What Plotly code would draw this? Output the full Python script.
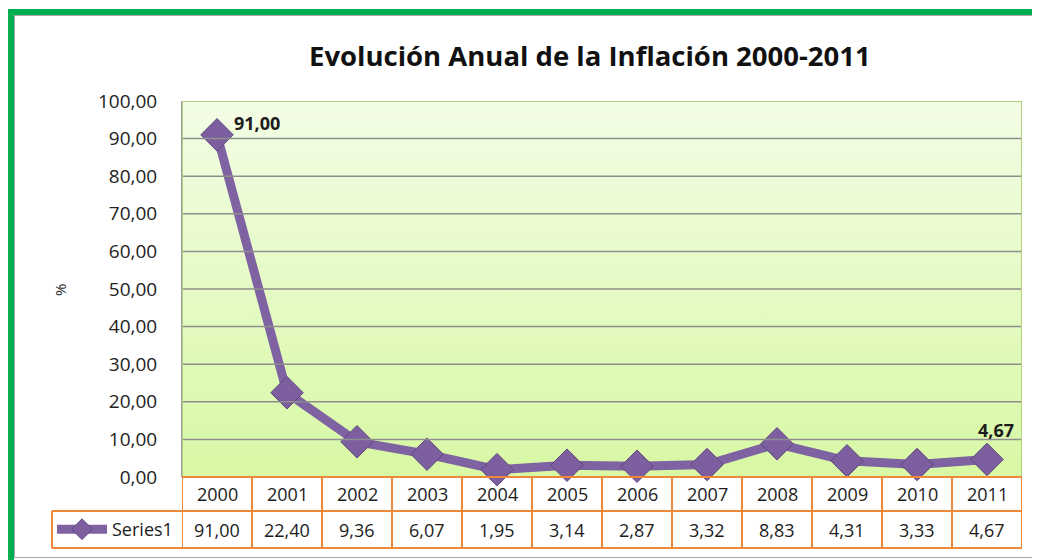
import plotly.graph_objects as go

years = ["2000", "2001", "2002", "2003", "2004", "2005", "2006", "2007", "2008", "2009", "2010", "2011"]
inflation = [91.00, 22.40, 9.36, 6.07, 1.95, 3.14, 2.87, 3.32, 8.83, 4.31, 3.33, 4.67]
value_labels = ["91,00", "22,40", "9,36", "6,07", "1,95", "3,14", "2,87", "3,32", "8,83", "4,31", "3,33", "4,67"]
series_name = "Series1"
title_text = "Evolución Anual de la Inflación 2000-2011"
y_title = "%"

OFF = 8  # browser body margin
W, H = 1040 - OFF, 560 - OFF
# plot area in reference pixels
PL, PR, PT, PB = 182, 1022, 101, 477
ROW1, ROW2 = 511, 548
LEG_L = 52

def px(x):
    return (x - OFF) / W

def py(y):
    return (H - (y - OFF)) / H

FONT = "Open Sans"
TXT = "#1c1c1c"
xs = list(range(len(years)))

fig = go.Figure()

# gradient background of plot area
fig.add_trace(go.Scatter(
    x=[-0.5, 11.5, 11.5, -0.5, -0.5], y=[0, 0, 100, 100, 0],
    mode="lines", line=dict(width=0), fill="toself",
    fillgradient=dict(type="vertical",
                      colorscale=[[0, "#d7f8a4"], [1, "#f3fde6"]]),
    hoverinfo="skip", showlegend=False,
))

for v in range(10, 101, 10):
    fig.add_shape(type="line", xref="x", yref="y", x0=-0.5, x1=11.5, y0=v, y1=v,
                  line=dict(color="#8e8e8e", width=1.5), layer="above")

fig.add_trace(go.Scatter(
    x=xs, y=inflation, mode="lines+markers", name=series_name,
    line=dict(color="#7f62a1", width=9),
    marker=dict(symbol="diamond", size=25, color="#7d5fa0",
                line=dict(color="#5f4680", width=1)),
    cliponaxis=False,
))

fig.add_annotation(x=0, y=inflation[0], xref="x", yref="y", text="<b>" + value_labels[0] + "</b>",
                   showarrow=False, xanchor="left", yanchor="middle", xshift=15, yshift=12,
                   font=dict(family=FONT, size=18, color=TXT))
fig.add_annotation(x=11, y=inflation[11], xref="x", yref="y", text="<b>" + value_labels[11] + "</b>",
                   showarrow=False, xanchor="center", yanchor="bottom", xshift=9, yshift=15,
                   font=dict(family=FONT, size=18, color=TXT))

fig.add_shape(type="rect", xref="x", yref="y", x0=-0.5, x1=11.5, y0=0, y1=100,
              line=dict(color="#b5d080", width=2), layer="above")

# data table
orange = "#f0883a"
lw = 2
fig.add_shape(type="line", xref="x", yref="paper", x0=-0.5, x1=11.5, y0=py(ROW1), y1=py(ROW1),
              line=dict(color=orange, width=lw))
fig.add_shape(type="line", xref="paper", yref="paper", x0=px(LEG_L), x1=px(PR), y0=py(ROW2), y1=py(ROW2),
              line=dict(color=orange, width=lw))
fig.add_shape(type="line", xref="paper", yref="paper", x0=px(LEG_L), x1=px(PL), y0=py(ROW1), y1=py(ROW1),
              line=dict(color=orange, width=lw))
fig.add_shape(type="line", xref="paper", yref="paper", x0=px(LEG_L), x1=px(LEG_L), y0=py(ROW1), y1=py(ROW2),
              line=dict(color=orange, width=lw))
fig.add_shape(type="line", xref="x", yref="paper", x0=-0.5, x1=11.5, y0=py(PB), y1=py(PB),
              line=dict(color=orange, width=lw))
for i in range(len(years) + 1):
    fig.add_shape(type="line", xref="x", yref="paper", x0=i - 0.5, x1=i - 0.5, y0=py(PB), y1=py(ROW2),
                  line=dict(color=orange, width=lw))
for i, (yr, lab) in enumerate(zip(years, value_labels)):
    fig.add_annotation(x=i, y=py((PB + ROW1) / 2), xref="x", yref="paper", text=yr, showarrow=False,
                       font=dict(family=FONT, size=18, color=TXT), yanchor="middle")
    fig.add_annotation(x=i, y=py((ROW1 + ROW2) / 2), xref="x", yref="paper", text=lab, showarrow=False,
                       font=dict(family=FONT, size=18, color=TXT), yanchor="middle")

# frame (green outer, thin gray inner)
green = "#00b050"
fig.add_shape(type="line", xref="paper", yref="paper", x0=px(8), x1=px(1040), y0=py(12), y1=py(12),
              line=dict(color=green, width=6))
fig.add_shape(type="line", xref="paper", yref="paper", x0=px(11), x1=px(11), y0=py(9), y1=py(560),
              line=dict(color=green, width=6))
gray = "#a8a8a8"
fig.add_shape(type="line", xref="paper", yref="paper", x0=px(14.5), x1=px(1040), y0=py(15.5), y1=py(15.5),
              line=dict(color=gray, width=1))
fig.add_shape(type="line", xref="paper", yref="paper", x0=px(14.5), x1=px(14.5), y0=py(15.5), y1=py(557.5),
              line=dict(color=gray, width=1))
fig.add_shape(type="line", xref="paper", yref="paper", x0=px(14.5), x1=px(1040), y0=py(557.5), y1=py(557.5),
              line=dict(color=gray, width=1))

fig.add_annotation(x=px(590), y=py(55), xref="paper", yref="paper", text="<b>" + title_text + "</b>",
                   showarrow=False, xanchor="center", yanchor="middle",
                   font=dict(family=FONT, size=27.5, color="#111111"))
fig.add_annotation(x=px(60), y=py(290), xref="paper", yref="paper", text=y_title, textangle=-90,
                   showarrow=False, xanchor="center", yanchor="middle",
                   font=dict(family=FONT, size=15, color=TXT))

fig.update_layout(
    width=W, height=H, template="none",
    margin=dict(l=0, r=0, t=0, b=0),
    paper_bgcolor="white", plot_bgcolor="white",
    separators=",.",
    showlegend=True,
    legend=dict(x=px(LEG_L), y=py((ROW1 + ROW2) / 2), xanchor="left", yanchor="middle",
                bgcolor="rgba(0,0,0,0)", itemwidth=50,
                font=dict(family=FONT, size=18, color=TXT)),
    xaxis=dict(domain=[px(PL), px(PR)], range=[-0.5, 11.5], showticklabels=False,
               showgrid=False, zeroline=False, showline=False, automargin=False, fixedrange=True),
    yaxis=dict(domain=[py(PB), py(PT)], range=[0, 100], dtick=10, tickformat=".2f",
               showgrid=False, zeroline=False, showline=True, linecolor="#9a9a9a", linewidth=1,
               ticks="", ticklabelstandoff=20, automargin=False,
               tickfont=dict(family=FONT, size=19, color="#222222")),
)

fig.write_html("out.html")
